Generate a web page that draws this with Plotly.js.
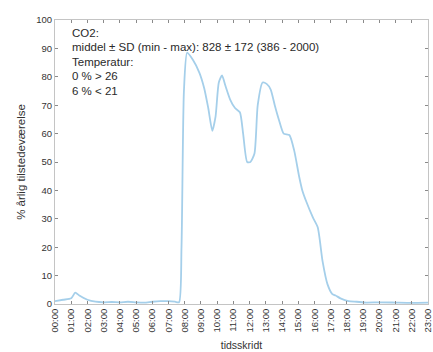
<!DOCTYPE html>
<html>
<head>
<meta charset="utf-8">
<script src="https://cdn.plot.ly/plotly-3.0.1.min.js"></script>
<style>html,body{margin:0;padding:0;background:#fff;}#chart{width:433px;height:352px;}</style>
</head>
<body>
<div id="chart"></div>
<script>
// time of day in hours
var hours = [0, 0.5, 1.0, 1.25, 1.5, 2.0, 2.5, 3.0, 3.5, 4.0, 4.5, 5.0, 5.5, 6.0, 6.5, 7.0, 7.4, 7.65, 7.8, 7.95, 8.15, 8.5, 8.9, 9.2, 9.45, 9.7, 9.9, 10.1, 10.3, 10.5, 10.8, 11.1, 11.4, 11.6, 11.85, 12.05, 12.3, 12.5, 12.8, 13.05, 13.3, 13.55, 13.8, 14.1, 14.45, 14.75, 15.05, 15.25, 15.5, 15.9, 16.2, 16.5, 16.8, 17.1, 17.3, 17.6, 18.1, 18.6, 19.2, 20.0, 21.0, 22.0, 23.0];
// % annual occupancy
var occupancy = [1.0, 1.5, 2.0, 4.0, 3.0, 1.5, 0.8, 0.6, 0.7, 0.6, 0.8, 0.6, 0.5, 0.8, 1.0, 1.0, 0.8, 0.6, 20, 75, 88.5, 86, 81.5, 76, 69, 61, 66, 78, 80.5, 77, 72, 69, 67.5, 60, 50, 50, 53, 70, 78, 77.5, 75.5, 70, 65, 60, 59.5, 54, 45, 40, 36, 30.5, 27, 15, 7, 3.5, 3, 2, 1, 0.8, 0.5, 0.6, 0.5, 0.4, 0.5];
var tickHours = [];
var tickLabels = [];
for (var h = 0; h <= 23; h++) { tickHours.push(h); tickLabels.push((h < 10 ? '0' : '') + h + ':00'); }
var yTicks = [0, 10, 20, 30, 40, 50, 60, 70, 80, 90, 100];
var infoLines = ['CO2:', 'middel \u00b1 SD (min - max): 828 \u00b1 172 (386 - 2000)', 'Temperatur:', '0 % > 26', '6 % < 21'];

var FONT = 'Liberation Sans, Arial, sans-serif';

var trace = {
  x: hours, y: occupancy, type: 'scatter', mode: 'lines',
  line: {color: 'rgb(165,207,234)', width: 1.8, shape: 'spline', smoothing: 0.6},
  hoverinfo: 'skip'
};

var annotations = infoLines.map(function (t, i) {
  return {
    xref: 'paper', yref: 'paper', x: 0.04, y: 0.955 - i * 0.051,
    xanchor: 'left', yanchor: 'middle', text: t, showarrow: false,
    font: {family: FONT, size: 11.5, color: '#2a2a2a'}
  };
});

var axisCommon = {
  showgrid: false, zeroline: false, showline: true, mirror: 'ticks',
  linecolor: '#c4c4c4', linewidth: 1, ticks: 'inside', ticklen: 3, tickcolor: '#8a8a8a',
  ticklabeloverflow: 'allow',
  tickfont: {family: FONT, size: 9.5, color: '#333333'}
};

var layout = Object.assign({
  width: 433, height: 352,
  margin: {l: 55, r: 5, t: 20, b: 48},
  paper_bgcolor: '#fff', plot_bgcolor: '#fff',
  showlegend: false,
  xaxis: Object.assign({}, axisCommon, {
    range: [0, 23], tickvals: tickHours, ticktext: tickLabels, tickangle: -90,
    title: {text: 'tidsskridt', standoff: 10, font: {family: FONT, size: 10.5, color: '#333333'}}
  }),
  yaxis: Object.assign({}, axisCommon, {
    range: [0, 100], tickvals: yTicks,
    title: {text: '% \u00e5rlig tilstedev\u00e6relse', standoff: 8, font: {family: FONT, size: 11.5, color: '#333333'}}
  }),
  annotations: annotations
});

Plotly.newPlot('chart', [trace], layout, {staticPlot: true, displayModeBar: false});
</script>
</body>
</html>
